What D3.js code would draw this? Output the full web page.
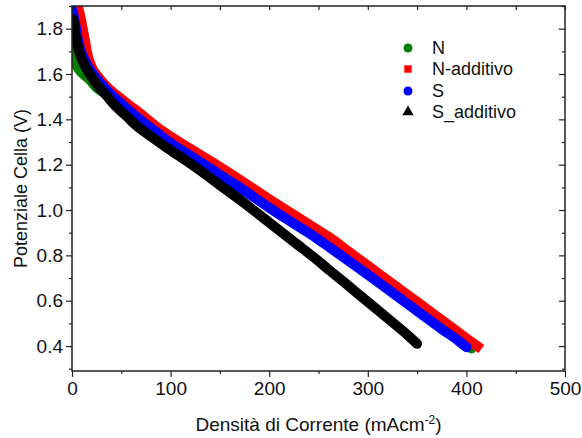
<!DOCTYPE html>
<html>
<head>
<meta charset="utf-8">
<script src="https://cdn.jsdelivr.net/npm/d3@7"></script>
<style>
  html, body { margin: 0; padding: 0; background: #fff; }
  svg { display: block; font-family: "Liberation Sans", Arial, sans-serif; }
</style>
</head>
<body>
<svg id="chart" width="582" height="438"></svg>
<script>
// Polarisation curves: cell potential (V) versus current density (mA cm^-2)
const seriesNames = ["N", "N-additivo", "S", "S_additivo"];
const seriesColors = ["#008000", "#ff0000", "#0000ff", "#000000"];
const seriesSymbols = ["circle", "square", "circle", "triangle"];

const currentN = [0.5, 2, 5, 10, 18, 25, 40, 55, 70, 85, 100, 120, 150, 200, 250, 300, 350, 380, 405];
const voltageN = [1.73, 1.67, 1.635, 1.605, 1.575, 1.54, 1.50, 1.45, 1.40, 1.35, 1.30, 1.245, 1.16, 1.015, 0.875, 0.72, 0.56, 0.465, 0.39];

const currentNAdd = [4, 7, 10, 13, 16, 20, 26, 35, 50, 65, 85, 100, 120, 150, 175, 200, 225, 250, 262, 275, 300, 325, 350, 375, 395, 411];
const voltageNAdd = [1.92, 1.88, 1.82, 1.75, 1.68, 1.63, 1.59, 1.545, 1.49, 1.44, 1.37, 1.325, 1.27, 1.19, 1.12, 1.048, 0.979, 0.91, 0.877, 0.835, 0.755, 0.675, 0.595, 0.515, 0.45, 0.40];

const currentS = [0.5, 2, 4, 6, 9, 13, 18, 25, 33, 42, 55, 70, 85, 100, 120, 150, 175, 200, 225, 250, 262, 300, 325, 350, 375, 390, 400];
const voltageS = [1.88, 1.85, 1.80, 1.75, 1.70, 1.66, 1.62, 1.58, 1.54, 1.50, 1.45, 1.395, 1.345, 1.295, 1.24, 1.155, 1.085, 1.01, 0.94, 0.87, 0.833, 0.715, 0.635, 0.555, 0.475, 0.43, 0.395];

const currentSAdd = [1.5, 3, 5, 8, 12, 18, 25, 35, 45, 55, 66, 80, 96, 110, 125, 150, 175, 200, 225, 250, 262, 275, 300, 325, 340, 350];
const voltageSAdd = [1.84, 1.79, 1.74, 1.69, 1.645, 1.60, 1.555, 1.505, 1.455, 1.415, 1.37, 1.325, 1.275, 1.235, 1.19, 1.11, 1.03, 0.945, 0.86, 0.775, 0.731, 0.685, 0.595, 0.505, 0.45, 0.41];

const xTickValues = [0, 100, 200, 300, 400, 500];
const yTickValues = [0.4, 0.6, 0.8, 1.0, 1.2, 1.4, 1.6, 1.8];

const seriesData = [
  currentN.map((c, i) => ({ x: c, y: voltageN[i] })),
  currentNAdd.map((c, i) => ({ x: c, y: voltageNAdd[i] })),
  currentS.map((c, i) => ({ x: c, y: voltageS[i] })),
  currentSAdd.map((c, i) => ({ x: c, y: voltageSAdd[i] }))
];

const svg = d3.select("#chart");
const plotLeft = 72, plotRight = 565, plotTop = 6, plotBottom = 371;

const x = d3.scaleLinear().domain([0, 500]).range([plotLeft, plotRight]);
const y = d3.scaleLinear().domain([0.29, 1.9]).range([plotBottom, plotTop]);

svg.append("defs").append("clipPath").attr("id", "plotClip")
  .append("rect").attr("x", plotLeft).attr("y", plotTop)
  .attr("width", plotRight - plotLeft).attr("height", plotBottom - plotTop);

// Dense marker bands drawn as thick strokes through the measured points
const line = d3.line().x(d => x(d.x)).y(d => y(d.y)).curve(d3.curveMonotoneX);
const curves = svg.append("g").attr("clip-path", "url(#plotClip)");
seriesData.forEach((pts, i) => {
  curves.append("path")
    .datum(pts)
    .attr("d", line)
    .attr("fill", "none")
    .attr("stroke", seriesColors[i])
    .attr("stroke-width", 10)
    .attr("stroke-linejoin", "round")
    .attr("stroke-linecap", seriesSymbols[i] === "square" ? "square" : "round");
});

// Axes
const axisColor = "#222";
const xMinor = d3.range(0, 501, 50);
const yMinor = d3.range(0.3, 1.91, 0.1);

const bottomAxis = svg.append("g").attr("transform", `translate(0,${plotBottom})`)
  .call(d3.axisBottom(x).tickValues(xTickValues).tickSize(6).tickFormat(d3.format("d")));
const bottomMinor = svg.append("g").attr("transform", `translate(0,${plotBottom})`)
  .call(d3.axisBottom(x).tickValues(xMinor.filter(v => v % 100 !== 0)).tickSize(3).tickFormat(""));
const leftAxis = svg.append("g").attr("transform", `translate(${plotLeft},0)`)
  .call(d3.axisLeft(y).tickValues(yTickValues).tickSize(6).tickFormat(d3.format(".1f")));
const leftMinor = svg.append("g").attr("transform", `translate(${plotLeft},0)`)
  .call(d3.axisLeft(y).tickValues(yMinor.filter((v, i) => i % 2 === 0)).tickSize(3).tickFormat(""));
const topAxis = svg.append("g").attr("transform", `translate(0,${plotTop})`)
  .call(d3.axisBottom(x).tickValues(xMinor).tickSize(4).tickFormat(""));
const rightMajor = svg.append("g").attr("transform", `translate(${plotRight},0)`)
  .call(d3.axisLeft(y).tickValues(yTickValues).tickSize(6).tickFormat(""));
const rightMinor = svg.append("g").attr("transform", `translate(${plotRight},0)`)
  .call(d3.axisLeft(y).tickValues(yMinor.filter((v, i) => i % 2 === 0)).tickSize(3).tickFormat(""));

[bottomAxis, bottomMinor, leftAxis, leftMinor, topAxis, rightMajor, rightMinor].forEach(g => {
  g.select(".domain").remove();
  g.selectAll(".tick line").attr("stroke", axisColor).attr("stroke-width", 1.2);
  g.selectAll(".tick text").attr("fill", "#111").style("font-size", "19px")
    .style("font-family", "'Liberation Sans', Arial, sans-serif");
});
bottomAxis.selectAll(".tick text").attr("y", 9).attr("dy", "0.8em");
leftAxis.selectAll(".tick text").attr("x", -9);

// Frame
svg.append("rect")
  .attr("x", plotLeft).attr("y", plotTop)
  .attr("width", plotRight - plotLeft).attr("height", plotBottom - plotTop)
  .attr("fill", "none").attr("stroke", axisColor).attr("stroke-width", 1.5);

// Axis titles
svg.append("text")
  .attr("transform", `translate(27,${(plotTop + plotBottom) / 2}) rotate(-90)`)
  .attr("text-anchor", "middle")
  .style("font-size", "18px").attr("fill", "#111")
  .text("Potenziale Cella (V)");

const xTitle = svg.append("text")
  .attr("x", (plotLeft + plotRight) / 2).attr("y", 431)
  .attr("text-anchor", "middle")
  .style("font-size", "19px").attr("fill", "#111");
xTitle.append("tspan").text("Densità di Corrente (mAcm");
xTitle.append("tspan").attr("dy", -7).style("font-size", "12px").text("-2");
xTitle.append("tspan").attr("dy", 7).text(")");

// Legend
const legendRows = [48, 69, 91, 112];
const legend = svg.append("g");
seriesNames.forEach((name, i) => {
  const cy = legendRows[i];
  const sym = seriesSymbols[i] === "circle" ? d3.symbolCircle
            : seriesSymbols[i] === "square" ? d3.symbolSquare : d3.symbolTriangle;
  const size = seriesSymbols[i] === "circle" ? 64 : 56;
  legend.append("path")
    .attr("d", d3.symbol().type(sym).size(size)())
    .attr("transform", `translate(408,${cy})`)
    .attr("fill", seriesColors[i]);
  legend.append("text")
    .attr("x", 432).attr("y", cy).attr("dy", "0.35em")
    .style("font-size", "18px").attr("fill", "#111")
    .text(name);
});
</script>
</body>
</html>
